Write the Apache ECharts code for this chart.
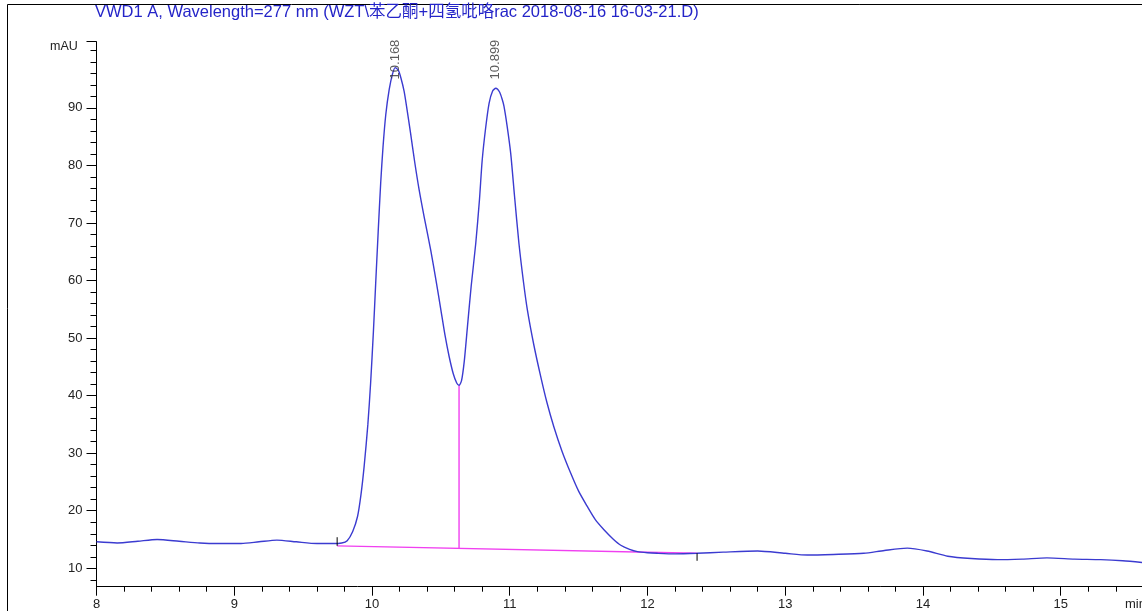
<!DOCTYPE html>
<html>
<head>
<meta charset="utf-8">
<script src="https://cdn.jsdelivr.net/npm/echarts@6/dist/echarts.min.js"></script>
<style>
html,body{margin:0;padding:0;background:#fff;}
#chart{width:1142px;height:611px;}
</style>
</head>
<body>
<div id="chart"></div>
<script>
// ---- data (retention time [min], absorbance [mAU]) ----
const signalTime = [8.00,8.15,8.30,8.44,8.60,8.75,8.88,9.05,9.18,9.31,9.45,9.60,9.72,9.78,9.82,9.86,9.895,9.92,9.943,9.97,9.99,10.01,10.027,10.045,10.063,10.08,10.10,10.125,10.149,10.168,10.19,10.21,10.233,10.255,10.28,10.31,10.342,10.38,10.427,10.465,10.50,10.53,10.56,10.59,10.615,10.632,10.65,10.67,10.693,10.72,10.753,10.78,10.80,10.825,10.85,10.875,10.899,10.925,10.945,10.958,10.98,11.007,11.035,11.067,11.10,11.128,11.175,11.225,11.27,11.32,11.38,11.443,11.50,11.564,11.62,11.684,11.75,11.806,11.87,11.927,12.00,12.07,12.20,12.36,12.55,12.80,13.00,13.16,13.35,13.57,13.72,13.886,14.03,14.18,14.35,14.54,14.72,14.90,15.10,15.29,15.45,15.59];
const signalValue = [14.6,14.4,14.7,15.0,14.7,14.4,14.3,14.3,14.6,14.9,14.6,14.3,14.3,14.4,14.8,16.4,19.0,22.8,27.7,35.0,42.2,51.0,59.6,68.5,76.9,83.2,88.8,93.2,95.9,97.0,96.6,95.2,92.9,89.6,85.6,80.6,75.8,70.9,65.2,60.0,54.9,50.5,46.8,43.8,42.2,41.8,42.6,46.0,52.0,59.0,66.4,74.0,80.9,86.5,90.8,92.9,93.4,92.8,91.5,90.3,87.0,82.1,74.6,66.4,59.7,54.9,48.8,43.3,38.8,34.6,30.3,26.5,23.4,20.7,18.5,16.7,15.1,14.0,13.3,12.9,12.7,12.6,12.5,12.6,12.8,13.0,12.6,12.3,12.4,12.6,13.1,13.5,13.0,12.1,11.7,11.5,11.6,11.8,11.6,11.5,11.3,11.0];

// integration baseline and peak split
const baselineTime = [9.747, 12.36];
const baselineValue = [13.9, 12.6];
const splitTime = [10.632, 10.632];
const splitValue = [41.8, 13.45];
// integration event markers
const eventStartTime = [9.747, 9.747];
const eventStartValue = [13.9, 15.4];
const eventEndTime = [12.36, 12.36];
const eventEndValue = [12.6, 11.3];

// peak retention-time labels
const peakTimes = [10.168, 10.899];
const peakLabels = ['10.168', '10.899'];

// axis ticks
const xMajorTicks = [8, 9, 10, 11, 12, 13, 14, 15];
const xMinorTicks = [8.2,8.4,8.6,8.8,9.2,9.4,9.6,9.8,10.2,10.4,10.6,10.8,11.2,11.4,11.6,11.8,12.2,12.4,12.6,12.8,13.2,13.4,13.6,13.8,14.2,14.4,14.6,14.8,15.2,15.4];
const yMajorLabels = [10, 20, 30, 40, 50, 60, 70, 80, 90];
const yMinorTicks = [8,12,14,16,18,22,24,26,28,32,34,36,38,42,44,46,48,52,54,56,58,62,64,66,68,72,74,76,78,82,84,86,88,92,94,96,98,100];

const titleText = 'VWD1 A, Wavelength=277 nm (WZT\\苯乙酮+四氢吡咯rac 2018-08-16 16-03-21.D)';
const yUnit = 'mAU';
const xUnit = 'min';

// ---- chart ----
const X_MIN = 8, X_MAX = 15.59, Y_MIN = 6.8, Y_MAX = 101.5;
const LABEL_Y = 98.4;
const FONT = '"Liberation Sans", Arial, "Noto Sans CJK SC", sans-serif';

function pairs(xs, ys) { return xs.map((x, i) => [x, ys[i]]); }

const chart = echarts.init(document.getElementById('chart'), null, {renderer: 'canvas'});
const axisCommon = {type: 'value', min: X_MIN, max: X_MAX, splitLine: {show: false}};
chart.setOption({
  animation: false,
  backgroundColor: '#ffffff',
  grid: {left: 96.5, right: 0, top: 41.7, bottom: 24.3, containLabel: false},
  xAxis: [
    Object.assign({}, axisCommon, {
      position: 'bottom',
      axisLine: {show: true, lineStyle: {color: '#000', width: 1}},
      axisTick: {show: true, length: 9, customValues: xMajorTicks, lineStyle: {color: '#000'}},
      axisLabel: {show: true, customValues: xMajorTicks, margin: 11, color: '#222', fontSize: 13, fontFamily: FONT}
    }),
    Object.assign({}, axisCommon, {
      position: 'bottom',
      axisLine: {show: false},
      axisTick: {show: true, length: 5, customValues: xMinorTicks, lineStyle: {color: '#000'}},
      axisLabel: {show: false}
    })
  ],
  yAxis: [
    {
      type: 'value', min: Y_MIN, max: Y_MAX, position: 'left',
      splitLine: {show: false},
      axisLine: {show: true, lineStyle: {color: '#000', width: 1}},
      axisTick: {show: true, length: 10, customValues: yMajorLabels.concat([Y_MAX]), lineStyle: {color: '#000'}},
      axisLabel: {show: true, customValues: yMajorLabels, margin: 14, color: '#222', fontSize: 13, fontFamily: FONT}
    },
    {
      type: 'value', min: Y_MIN, max: Y_MAX, position: 'left',
      splitLine: {show: false},
      axisLine: {show: false},
      axisTick: {show: true, length: 6, customValues: yMinorTicks, lineStyle: {color: '#000'}},
      axisLabel: {show: false}
    }
  ],
  graphic: [
    {type: 'rect', shape: {x: 7.5, y: 4.5, width: 1300, height: 700}, style: {fill: 'none', stroke: '#000', lineWidth: 1}, z: -1},
    {type: 'text', left: 95, top: 4, style: {text: titleText, fill: '#2424c8', font: '16.5px ' + FONT}},
    {type: 'text', left: 50, top: 40, style: {text: yUnit, fill: '#222', font: '12.5px ' + FONT}},
    {type: 'text', left: 1125, top: 598, style: {text: xUnit, fill: '#222', font: '13px ' + FONT}}
  ],
  series: [
    {
      name: 'signal', type: 'line', data: pairs(signalTime, signalValue),
      showSymbol: false, smooth: 0.25, clip: true,
      lineStyle: {color: '#3b3bd0', width: 1.4}, z: 3
    },
    {
      name: 'baseline', type: 'line', data: pairs(baselineTime, baselineValue),
      showSymbol: false, lineStyle: {color: '#f040f0', width: 1.4}, z: 2
    },
    {
      name: 'split', type: 'line', data: pairs(splitTime, splitValue),
      showSymbol: false, lineStyle: {color: '#f040f0', width: 1.4}, z: 2
    },
    {
      name: 'eventStart', type: 'line', data: pairs(eventStartTime, eventStartValue),
      showSymbol: false, lineStyle: {color: '#000', width: 1}, z: 4
    },
    {
      name: 'eventEnd', type: 'line', data: pairs(eventEndTime, eventEndValue),
      showSymbol: false, lineStyle: {color: '#000', width: 1}, z: 4
    },
    {
      name: 'peaks', type: 'scatter', symbolSize: 0,
      data: peakTimes.map((t, i) => ({value: [t, LABEL_Y], name: peakLabels[i]})),
      label: {show: true, position: 'inside', rotate: 90, formatter: p => p.name, color: '#333', fontSize: 13, fontFamily: FONT},
      z: 5
    }
  ]
});
</script>
</body>
</html>
